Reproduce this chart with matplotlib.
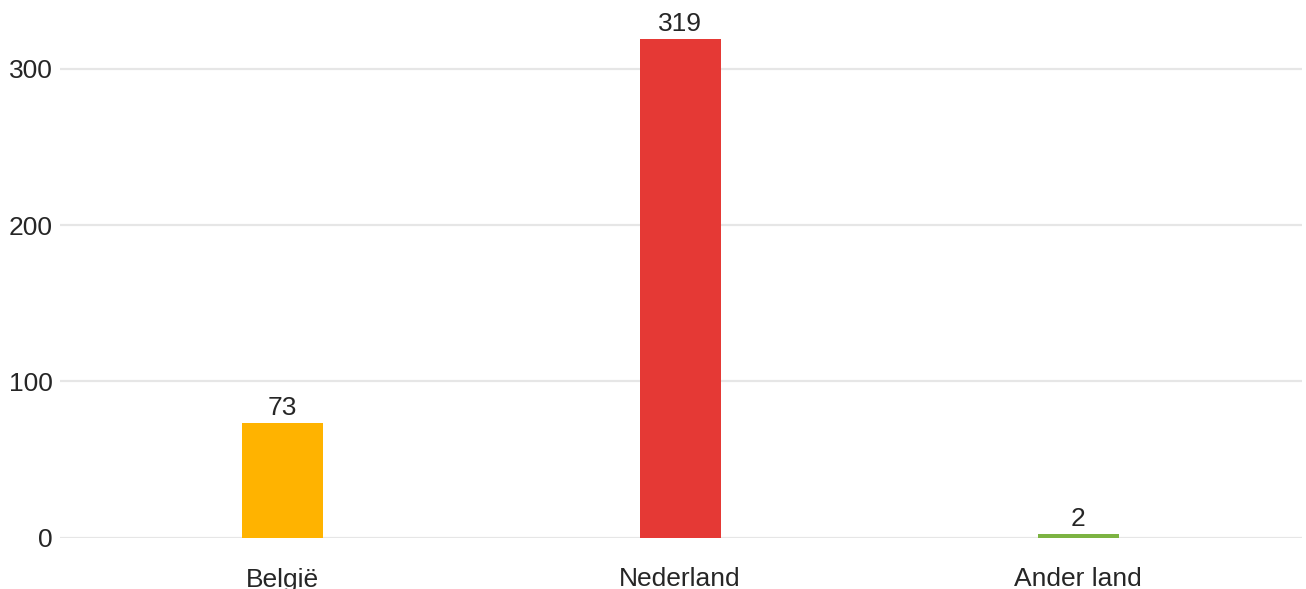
import matplotlib
matplotlib.use("Agg")
import matplotlib.pyplot as plt

categories = ["België", "Nederland", "Ander land"]
values = [73, 319, 2]
colors = ["#FFB300", "#E53935", "#7CB342"]
yticks = [0, 100, 200, 300]

W, H, DPI = 1306, 589, 100
plt.rcParams['font.family'] = ['Liberation Sans', 'DejaVu Sans']
fig = plt.figure(figsize=(W / DPI, H / DPI), dpi=DPI)

# pixel geometry
x_left, x_right = 60, 1302
y_zero, y_300 = 537.5, 69
px_per_unit = (y_zero - y_300) / 300.0
ax = fig.add_axes([x_left / W, (H - y_zero) / H, (x_right - x_left) / W, y_zero / H])
ax.set_ylim(0, y_zero / px_per_unit)
cx = [282, 680, 1078]
spacing = 398.0
ax.set_xlim((x_left - cx[0]) / spacing, (x_right - cx[0]) / spacing)

for s in ax.spines.values():
    s.set_visible(False)
ax.set_xticks([])
ax.set_yticks([])

for t in yticks:
    ax.axhline(t, color="#e6e6e6", lw=1.6, zorder=0)

xs = list(range(len(categories)))
bars = ax.bar(xs, values, width=81 / spacing, color=colors, zorder=2)

txt_color = "#262626"
fs = 19
pt = 72.0 / DPI  # points per pixel
for x, v in zip(xs, values):
    ax.annotate(str(v), xy=(x, v), xytext=(0, 8 * pt), textcoords="offset points",
                ha="center", va="baseline", fontsize=fs, color=txt_color)
    ax.annotate(categories[xs.index(x)], xy=(x, 0), xytext=(0, -49 * pt),
                textcoords="offset points", ha="center", va="baseline",
                fontsize=fs, color=txt_color)

for t in yticks:
    ax.annotate(str(t), xy=(0, t), xycoords=("axes fraction", "data"),
                xytext=(-7.5 * pt, -9.5 * pt), textcoords="offset points",
                ha="right", va="baseline", fontsize=fs, color=txt_color,
                annotation_clip=False)

fig.savefig("out.png", dpi=DPI)
